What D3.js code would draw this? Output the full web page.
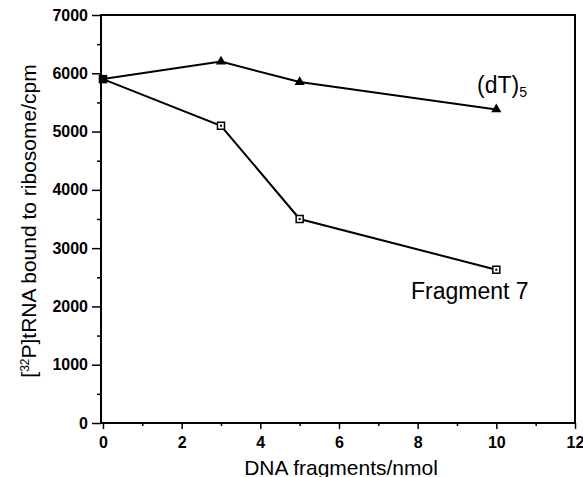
<!DOCTYPE html>
<html>
<head>
<meta charset="utf-8">
<script src="https://cdn.jsdelivr.net/npm/d3@7"></script>
<style>
  body { margin: 0; background: #fff; }
  text { font-family: "Liberation Sans", Arial, sans-serif; fill: #000; }
</style>
</head>
<body>
<svg width="583" height="477"></svg>
<script>
var svg = d3.select("svg");

// data
var doses = [0, 3, 5, 10];
var dT5 = [5900, 6200, 5850, 5380];
var frag7 = [5900, 5100, 3500, 2630];
var xTicks = [0, 2, 4, 6, 8, 10, 12];
var yTicks = [0, 1000, 2000, 3000, 4000, 5000, 6000, 7000];

var plotL = 101, plotR = 575, plotT = 15, plotB = 423;

var x = d3.scaleLinear().domain([-0.05, 12]).range([plotL, plotR]);
var y = d3.scaleLinear().domain([0, 7000]).range([plotB, plotT]);

// frame
svg.append("rect")
    .attr("x", plotL).attr("y", plotT)
    .attr("width", plotR - plotL).attr("height", plotB - plotT)
    .attr("fill", "none").attr("stroke", "#000").attr("stroke-width", 2);

// y axis
svg.append("g")
    .attr("transform", "translate(" + plotL + ",0)")
    .call(d3.axisLeft(y).tickValues(yTicks).tickSize(9).tickPadding(4).tickFormat(d3.format("d")));
svg.append("g")
    .attr("transform", "translate(" + plotL + ",0)")
    .call(d3.axisLeft(y).tickValues(d3.range(500, 7000, 1000)).tickSize(4).tickFormat(""));

// x axis
svg.append("g")
    .attr("transform", "translate(0," + plotB + ")")
    .call(d3.axisBottom(x).tickValues(xTicks).tickSize(6).tickPadding(8).tickFormat(d3.format("d")));
svg.append("g")
    .attr("transform", "translate(0," + plotB + ")")
    .call(d3.axisBottom(x).tickValues(d3.range(1, 12, 2)).tickSize(3).tickFormat(""));

svg.selectAll(".domain").remove();
svg.selectAll(".tick line").attr("stroke", "#000").attr("stroke-width", 1.5);
svg.selectAll(".tick text")
    .style("font-family", "'Liberation Sans', Arial, sans-serif")
    .style("font-size", "16px")
    .style("font-weight", "bold");

// lines
var line = d3.line()
    .x(function (d) { return x(d[0]); })
    .y(function (d) { return y(d[1]); });

var fragPts = doses.map(function (d, i) { return [d, frag7[i]]; });
var dtPts = doses.map(function (d, i) { return [d, dT5[i]]; });

svg.append("path").datum(fragPts).attr("d", line)
    .attr("fill", "none").attr("stroke", "#000").attr("stroke-width", 2);
svg.append("path").datum(dtPts).attr("d", line)
    .attr("fill", "none").attr("stroke", "#000").attr("stroke-width", 2);

// open squares for fragment 7 (first point overlaps the other series -> looks solid)
var sq = svg.append("g").selectAll("g")
    .data(fragPts)
    .enter().append("g")
    .attr("transform", function (d) { return "translate(" + x(d[0]) + "," + y(d[1]) + ")"; });
sq.append("rect")
    .attr("x", -3.5).attr("y", -3.5).attr("width", 7).attr("height", 7)
    .attr("fill", function (d, i) { return i === 0 ? "#000" : "#fff"; })
    .attr("stroke", "#000").attr("stroke-width", 1.5);
sq.append("rect")
    .attr("x", -1).attr("y", -1).attr("width", 2).attr("height", 2)
    .attr("fill", "#000");

// filled triangles for (dT)5
svg.append("g").selectAll("path")
    .data(dtPts.slice(1))
    .enter().append("path")
    .attr("d", d3.symbol().type(d3.symbolTriangle).size(45))
    .attr("transform", function (d) { return "translate(" + x(d[0]) + "," + y(d[1]) + ")"; })
    .attr("fill", "#000");

// series labels
var dtLab = svg.append("text")
    .attr("x", 477).attr("y", 93)
    .style("font-size", "23px");
dtLab.append("tspan").text("(dT)");
dtLab.append("tspan").attr("dy", 4).style("font-size", "14px").text("5");

svg.append("text")
    .attr("x", 411).attr("y", 299)
    .style("font-size", "23px")
    .text("Fragment 7");

// axis titles
svg.append("text")
    .attr("x", 341).attr("y", 475)
    .attr("text-anchor", "middle")
    .style("font-size", "21px")
    .text("DNA fragments/nmol");

var yLab = svg.append("text")
    .attr("transform", "translate(36,221) rotate(-90)")
    .attr("text-anchor", "middle")
    .style("font-size", "21px");
yLab.append("tspan").text("[");
yLab.append("tspan").attr("dy", -7).style("font-size", "12px").text("32");
yLab.append("tspan").attr("dy", 7).text("P]tRNA bound to ribosome/cpm");
</script>
</body>
</html>
